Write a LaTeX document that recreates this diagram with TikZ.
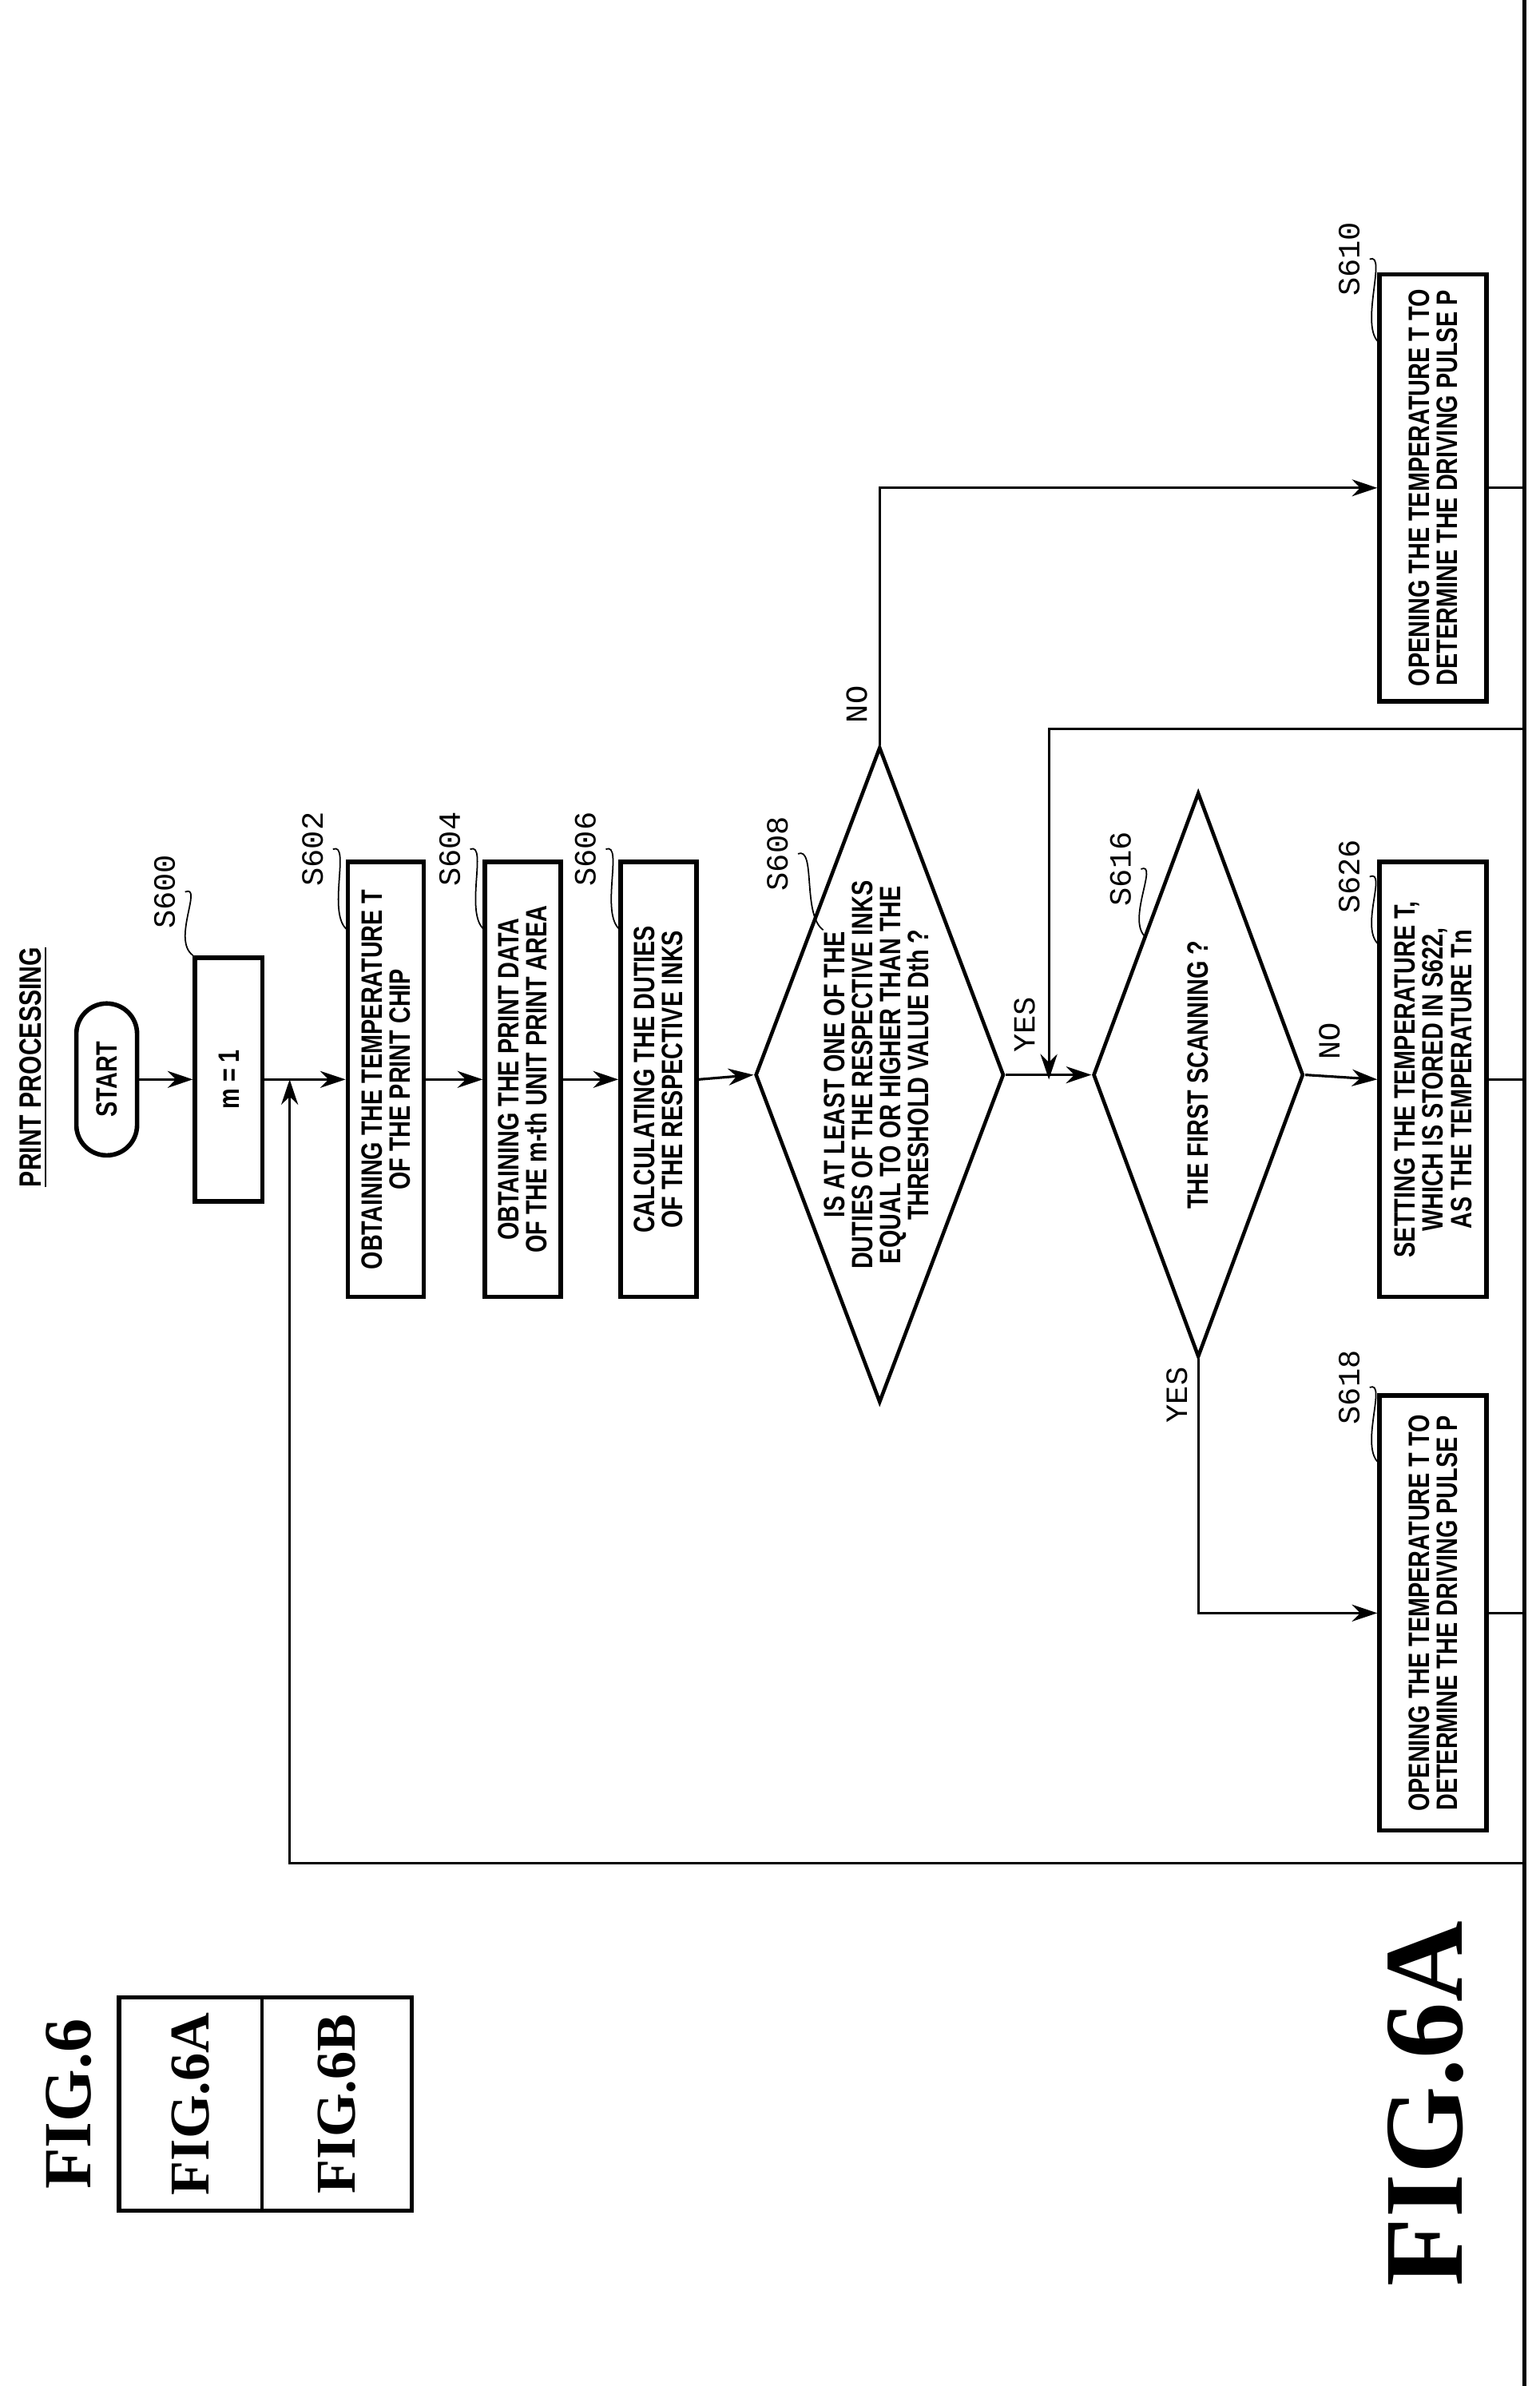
\documentclass[tikz,border=0pt]{standalone}
\usepackage{fontspec}
\setmainfont{Liberation Sans}[FakeStretch=0.78]
\newfontfamily\stepfont{Liberation Mono}
\newfontfamily\figfont{Liberation Serif}
\usetikzlibrary{arrows.meta,shapes.geometric}
\tikzset{
  box/.style={draw,line width=1.6pt,rotate=90,inner sep=0pt,align=center,
    font=\bfseries\fontsize{10.5}{10}\selectfont},
  dia/.style={draw,line width=1.3pt,diamond,rotate=90,inner sep=0pt,aspect=2.6},
  line/.style={line width=0.9pt},
  arr/.style={line width=0.9pt,-{Stealth[length=9pt,width=6pt]}},
  steplbl/.style={rotate=90,font=\stepfont\fontsize{11}{11}\selectfont},
  lead/.style={line width=0.5pt}
}
\newcommand{\stepmark}[4]{%
  \node[steplbl] (#1) at (#2) {#3};
  \draw[lead] (#1.south) .. controls +(12,-5) and +(-14,-10) .. (#4);}
\begin{document}
\begin{tikzpicture}[x=0.019079cm,y=-0.019079cm]
\useasboundingbox (0,0) rectangle (1010,1565);
% titles
\node[rotate=90,font=\bfseries\fontsize{11}{11}\selectfont] (title) at (22,700) {\underline{PRINT PROCESSING}};
\node[rotate=90,font=\figfont\bfseries\fontsize{24}{24}\selectfont] (fig6) at (45,1380) {FIG.6};
\draw[line width=1.6pt] (78,1310) rectangle (270,1450);
\draw[line width=1.2pt] (172,1310) -- (172,1450);
\node[rotate=90,font=\figfont\bfseries\fontsize{20}{20}\selectfont] (fa) at (125,1380) {FIG.6A};
\node[rotate=90,font=\figfont\bfseries\fontsize{20}{20}\selectfont] (fb) at (221,1380) {FIG.6B};
\node[rotate=90,font=\figfont\bfseries\fontsize{40}{40}\selectfont] (fig6a) at (935,1380) {FIG.6A};
% flow
\node[draw,line width=1.6pt,rounded corners=0.38cm,rotate=90,minimum width=1.9cm,minimum height=0.76cm,
  font=\bfseries\fontsize{10.5}{10}\selectfont] (start) at (70,708) {START};
\node[box,minimum width=3.05cm,minimum height=0.84cm] (m1) at (150,708) {m = 1};
\node[box,minimum width=5.44cm,minimum height=0.95cm] (s602) at (253,708) {OBTAINING THE TEMPERATURE T\\OF THE PRINT CHIP};
\node[box,minimum width=5.44cm,minimum height=0.95cm] (s604) at (343,708) {OBTAINING THE PRINT DATA\\OF THE m-th UNIT PRINT AREA};
\node[box,minimum width=5.44cm,minimum height=0.95cm] (s606) at (432,708) {CALCULATING THE DUTIES\\OF THE RESPECTIVE INKS};
\node[dia,minimum width=8.2cm,minimum height=3.11cm] (d608) at (577,705) {};
\node[rotate=90,align=center,font=\bfseries\fontsize{10.5}{10}\selectfont] (t608) at (575,705)
  {IS AT LEAST ONE OF THE\\DUTIES OF THE RESPECTIVE INKS\\EQUAL TO OR HIGHER THAN THE\\THRESHOLD VALUE Dth ?};
\node[dia,minimum width=7.06cm,minimum height=2.63cm] (d616) at (786,705) {};
\node[rotate=90,font=\bfseries\fontsize{10.5}{10}\selectfont] (t616) at (786,705) {THE FIRST SCANNING ?};
\node[box,minimum width=5.34cm,minimum height=1.34cm] (s610) at (940,320) {OPENING THE TEMPERATURE T TO\\DETERMINE THE DRIVING PULSE P};
\node[box,minimum width=5.44cm,minimum height=1.34cm] (s626) at (940,708) {SETTING THE TEMPERATURE T,\\WHICH IS STORED IN S622,\\AS THE TEMPERATURE Tn};
\node[box,minimum width=5.44cm,minimum height=1.34cm] (s618) at (940,1058) {OPENING THE TEMPERATURE T TO\\DETERMINE THE DRIVING PULSE P};
% step labels
\stepmark{l600}{108,585}{S600}{m1.north east}
\stepmark{l602}{205,557}{S602}{228,610}
\stepmark{l604}{295,557}{S604}{318,610}
\stepmark{l606}{384,557}{S606}{407,610}
\stepmark{l608}{510,560}{S608}{540,610}
\stepmark{l616}{735,570}{S616}{752,615}
\stepmark{l626}{885,575}{S626}{905,620}
\stepmark{l618}{885,910}{S618}{905,960}
\stepmark{l610}{885,170}{S610}{905,225}
% connectors
\coordinate (j1) at (688,708);
\coordinate (j2) at (190,708);
\coordinate (e610) at (1000,320);
\coordinate (e626) at (1000,708);
\coordinate (e618) at (1000,1058);
\coordinate (r1) at (1000,478);
\coordinate (r2) at (1000,1222);
\draw[arr] (start.south) -- (m1.north);
\draw[arr] (m1.south) -- (s602.north);
\draw[arr] (s602.south) -- (s604.north);
\draw[arr] (s604.south) -- (s606.north);
\draw[arr] (s606.south) -- (d608.north);
\draw[arr] (d608.south) -- (d616.north);
\draw[arr] (d608.east) |- (s610.north);
\draw[arr] (d616.south) -- (s626.north);
\draw[arr] (d616.west) |- (s618.north);
\draw[line] (s610.south) -- (e610);
\draw[line] (s626.south) -- (e626);
\draw[line] (s618.south) -- (e618);
\draw[arr] (r1) -| (j1);
\draw[arr] (r2) -| (j2);
\draw[line width=1.6pt] (1000,0) -- (1000,1565);
% branch labels
\node[steplbl] (no1) at (562,462) {NO};
\node[steplbl] (yes1) at (672,672) {YES};
\node[steplbl] (no2) at (872,683) {NO};
\node[steplbl] (yes2) at (772,915) {YES};
\end{tikzpicture}
\end{document}
